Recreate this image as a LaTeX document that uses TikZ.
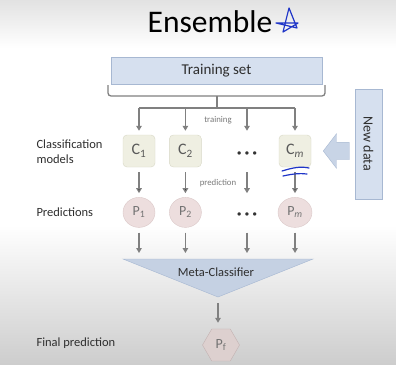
\documentclass[tikz,border=0pt]{standalone}
\usepackage{fontspec}
\setmainfont{Carlito}
\usepackage{tikz}
\usetikzlibrary{arrows.meta,shapes,positioning}

\definecolor{topgray}{HTML}{E2E2E2}
\definecolor{botgray}{HTML}{CDCDCD}
\definecolor{boxfill}{HTML}{D6E0EF}
\definecolor{boxline}{HTML}{A7B8D2}
\definecolor{arrowfill}{HTML}{C8D4E6}
\definecolor{metafill}{HTML}{C5D1E3}
\definecolor{modelfill}{HTML}{EFEFE2}
\definecolor{modelline}{HTML}{D8D8C6}
\definecolor{predfill}{HTML}{EDDEDE}
\definecolor{predline}{HTML}{DBC8C8}
\definecolor{finalfill}{HTML}{DDD0CF}
\definecolor{finalline}{HTML}{C3B2B2}
\definecolor{flowgray}{HTML}{808080}
\definecolor{labeltext}{HTML}{2E2E2E}
\definecolor{notetext}{HTML}{7A7A7A}
\definecolor{penblue}{HTML}{1F35C8}

\begin{document}
\begin{tikzpicture}[x=1pt, y=-1pt]
% STYLES
\tikzset{%
    bluebox/.style={%
rectangle,
draw=boxline,
fill=boxfill,
inner sep=0pt,
text=labeltext
                   },
    model/.style={%
rectangle,
rounded corners=4pt,
draw=modelline,
fill=modelfill,
minimum size=32pt,
inner sep=0pt,
text=black!65,
font=\fontsize{16}{16}\selectfont
                 },
    pred/.style={%
ellipse,
draw=predline,
fill=predfill,
minimum width=32pt,
minimum height=30pt,
inner sep=0pt,
text=black!55,
font=\fontsize{14}{14}\selectfont
                },
    rowlabel/.style={anchor=west, align=left, text=labeltext, font=\fontsize{12.5}{15}\selectfont},
    note/.style={text=notetext, font=\fontsize{8.8}{9}\selectfont},
    dotrow/.style={text=black!80, font=\fontsize{18}{18}\selectfont\bfseries},
    link/.style={draw=flowgray, line width=1.3pt},
    flow/.style={link, -{Triangle[length=5pt,width=5.5pt]}},
    pen/.style={draw=penblue, line width=1.2pt, line cap=round, line join=round}
             }

% Slide background
\useasboundingbox (0,0) rectangle (396,364);
\fill[white] (0,0) rectangle (396,364);
\fill[top color=topgray, bottom color=white] (0,0) rectangle (396,48);
\fill[top color=white, bottom color=botgray] (0,225) rectangle (396,364);

% Title
\node[font=\fontsize{31.5}{32}\selectfont] (title) at (210,22) {Ensemble};

% Draw training set and new data
\node[bluebox, minimum width=211pt, minimum height=27pt, font=\fontsize{15}{15}\selectfont] (train) at (216.5,70.5) {Training set};
\node[bluebox, rotate=-90, minimum width=110pt, minimum height=27pt, font=\fontsize{14}{14}\selectfont] (newdata) at (368.5,144) {New data};
\node[single arrow, shape border rotate=180, draw=boxline, fill=arrowfill,
      single arrow tip angle=105, single arrow head extend=8.5pt,
      inner sep=8.5pt, minimum height=26pt, anchor=tip] (feed) at (323,151) {};

% Draw models and predictions
\node[model] (c1) at (139,151) {C\textsubscript{1}};
\node[model, right=14pt of c1] (c2) {C\textsubscript{2}};
\node[model] (cm) at (295,151) {C\textsubscript{\itshape m}};
\node[dotrow] (cdots) at (247,155) {·\hspace{3pt}·\hspace{3pt}·};

\node[pred, below=30pt of c1] (p1) {P\textsubscript{1}};
\node[pred, below=30pt of c2] (p2) {P\textsubscript{2}};
\node[pred, below=30pt of cm, minimum width=34pt] (pm) {P\textsubscript{\itshape m}};
\node[dotrow] (pdots) at (247,216) {·\hspace{3pt}·\hspace{3pt}·};

\node[note] (trainnote) at (218,120) {training};
\node[note] (prednote) at (218,183) {prediction};

% Meta-classifier and final prediction
\coordinate (metaL) at (123,259);
\coordinate (metaR) at (313,259);
\coordinate (metaT) at (218,297);
\draw[draw=boxline, fill=metafill] (metaL) -- (metaR) -- (metaT) -- cycle;
\node[text=labeltext, font=\fontsize{12.5}{13}\selectfont] (meta) at (216,272) {Meta-Classifier};
\node[regular polygon, regular polygon sides=6, draw=finalline, fill=finalfill,
      minimum size=37pt, inner sep=0pt, text=black!55, font=\fontsize{14}{14}\selectfont] (pf) at (221,345) {P\textsubscript{f}};

% Row labels
\node[rowlabel] (lblmodels) at (33,152) {Classification\\models};
\node[rowlabel] (lblpred) at (33,212) {Predictions};
\node[rowlabel] (lblfinal) at (33,343) {Final prediction};

% Draw the links
\coordinate (bar) at (217,108);
\draw[link, rounded corners=3pt] (108,85) -- (108,96) -- (325,96) -- (325,85);
\draw[link] (217,96) -- (bar);
\draw[link] (c1 |- bar) -- (cm |- bar);
\foreach \m in {c1,c2,cm}
  \draw[flow, shorten >=4pt] (\m |- bar) -- (\m);
\draw[flow, shorten >=4pt] (cdots |- bar) -- (cdots |- c1.north);

\path[flow, shorten <=5pt, shorten >=4pt]
(c1) edge (p1)
(c2) edge (p2)
(cm) edge (pm);
\draw[flow, shorten <=5pt, shorten >=4pt] (cdots |- c1.south) -- (pdots |- p1.north);

\foreach \p in {p1,p2,pm}
  \draw[flow, shorten <=5pt, shorten >=6pt] (\p) -- (\p |- metaL);
\draw[flow, shorten <=5pt, shorten >=6pt] (pdots |- p1.south) -- (pdots |- metaL);
\draw[flow, shorten <=6pt, shorten >=6pt] (metaT) -- (metaT |- pf.north);

% Pen marks
\draw[pen] (283,32) -- (289,8) -- (297,28) -- (276,23) -- (298,23) -- (283,32);
\draw[pen] (282,171) .. controls (292,168) and (300,166) .. (309,168);
\draw[pen] (283,176) .. controls (292,174) and (300,173) .. (307,174);
\end{tikzpicture}
\end{document}
